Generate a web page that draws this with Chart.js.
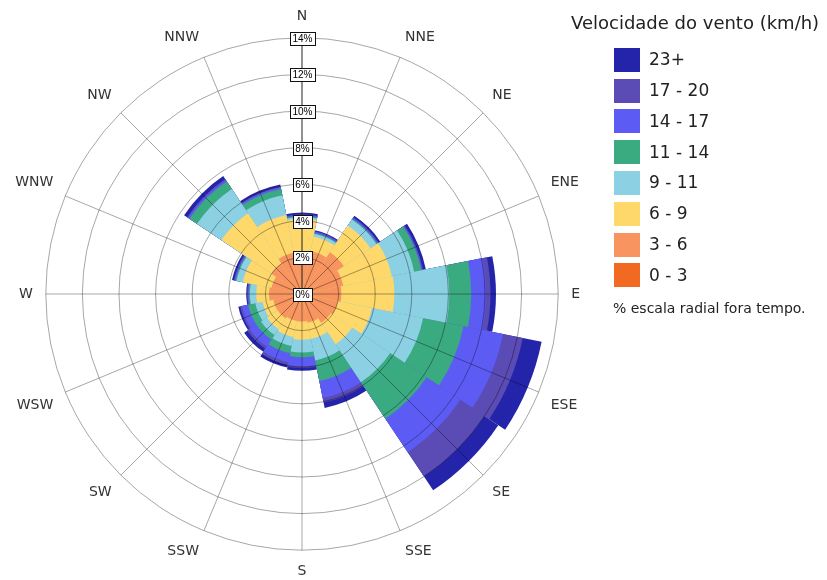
<!DOCTYPE html>
<html>
<head>
<meta charset="utf-8">
<script src="https://cdn.jsdelivr.net/npm/chart.js@4.4.0/dist/chart.umd.min.js"></script>
<style>
body{margin:0;background:#fff;}
#wrap{position:relative;width:827px;height:580px;}
#chart{position:absolute;left:0;top:0;}
.lg{position:absolute;font-family:"DejaVu Sans",sans-serif;color:#222;white-space:nowrap;}
.box{position:absolute;width:26px;height:24px;}
</style>
</head>
<body>
<div id="wrap">
<canvas id="chart" width="827" height="580"></canvas>
<div id="legend"></div>
</div>
<script>
// wind rose data, % of time per direction and speed class
const directions=['N','NNE','NE','ENE','E','ESE','SE','SSE','S','SSW','SW','WSW','W','WNW','NW','NNW'];
const speedBins=['0 - 3','3 - 6','6 - 9','9 - 11','11 - 14','14 - 17','17 - 20','23+'];
const binColors=['#f26a22','#f8945f','#fed86a','#8cd0e4','#3aaa80','#5c5cf5','#5a4bb5','#2424aa'];

const s0_3  =[0.3,0.3,0.3,0.3,0.3,0.3,0.3,0.3,0.3,0.3,0.3,0.3,0.3,0.3,0.3,0.3];
const s3_6  =[1.9,2.1,2.45,2.0,1.85,1.7,1.6,1.3,1.2,1.2,1.3,1.3,1.5,1.4,1.7,2.0];
const s6_9  =[1.9,0.8,1.75,2.7,2.9,1.9,1.4,0.9,1.0,0.9,0.7,0.6,0.7,1.6,3.3,2.1];
const s9_11 =[0.1,0.15,0.4,1.25,3.0,2.85,2.5,1.2,0.7,0.5,0.4,0.4,0.35,0.35,1.6,1.1];
const s11_14=[0.05,0.05,0.05,0.4,1.2,2.25,2.4,1.15,0.25,0.4,0.3,0.4,0.05,0.05,0.5,0.35];
const s14_17=[0.05,0.05,0.05,0.05,0.8,2.2,2.2,0.95,0.5,0.5,0.45,0.35,0.05,0.05,0.1,0.1];
const s17_20=[0.05,0.05,0.05,0.05,0.25,1.1,1.6,0.25,0.1,0.15,0.15,0.1,0.05,0.05,0.05,0.05];
const s23   =[0.1,0.05,0.1,0.15,0.3,1.05,0.9,0.3,0.15,0.15,0.2,0.1,0.05,0.1,0.2,0.1];

const tickValues=[0,2,4,6,8,10,12,14];

const series=[s0_3,s3_6,s6_9,s9_11,s11_14,s14_17,s17_20,s23];

// stacked totals, each drawn as a full wedge, smallest on top
let run=directions.map(()=>0);
const totals=series.map(s=>{run=run.map((v,i)=>v+s[i]);return run.slice();});

// first and last slot are the two halves of N so bars sit centred on the spokes
const datasets=totals.map((t,k)=>({
label:speedBins[k],
data:[t[0],...t.slice(1),t[0]],
backgroundColor:binColors[k],
borderWidth:0,
angle:c=>(c.dataIndex===0||c.dataIndex===16)?11.25:22.5
}));

const tickBoxes={
id:'tickBoxes',
afterDraw(chart){
const s=chart.scales.r,c=chart.ctx;
c.save();
c.font='10px "Liberation Sans"';
c.textAlign='center';c.textBaseline='middle';
tickValues.forEach(v=>{
const y=Math.round(s.yCenter-s.getDistanceFromCenterForValue(v));
const t=v+'%';
const w=Math.round(c.measureText(t).width)+5,h=13;
const x0=Math.round(s.xCenter-w/2)+0.5,y0=Math.round(y-h/2)+0.5;
c.fillStyle='#fff';c.fillRect(x0,y0,w,h);
c.strokeStyle='#111';c.lineWidth=1;c.strokeRect(x0,y0,w,h);
c.fillStyle='#000';c.fillText(t,s.xCenter+0.5,y+1);
});
c.restore();
}
};

new Chart(document.getElementById('chart'),{
type:'polarArea',
data:{labels:directions,datasets:datasets},
options:{
responsive:false,
animation:false,
layout:{padding:{top:8,bottom:0,left:0,right:229}},
plugins:{legend:{display:false},tooltip:{enabled:false}},
scales:{r:{
min:0,max:14,startAngle:0,
ticks:{display:false,stepSize:2},
grid:{circular:true,color:'rgba(0,0,0,0.35)',z:1},
angleLines:{display:true,lineWidth:1,color:c=>c.index===0?'#222':'rgba(0,0,0,0.35)'},
pointLabels:{display:true,padding:13,color:'#333',font:{family:'DejaVu Sans',size:14}}
}}
},
plugins:[tickBoxes]
});

// legend
const lg=document.getElementById('legend');
let html='<div class="lg" style="left:571px;top:12px;font-size:18px">Velocidade do vento (km/h)</div>';
speedBins.slice().reverse().forEach((b,i)=>{
const top=47.7+30.8*i;
html+='<div class="box" style="left:614px;top:'+top+'px;background:'+binColors[speedBins.length-1-i]+'"></div>';
html+='<div class="lg" style="left:649px;top:'+(top+1.5)+'px;font-size:17px;line-height:21px">'+b+'</div>';
});
html+='<div class="lg" style="left:613px;top:299px;font-size:14px;line-height:18px">% escala radial fora tempo.</div>';
lg.innerHTML=html;
</script>
</body>
</html>
